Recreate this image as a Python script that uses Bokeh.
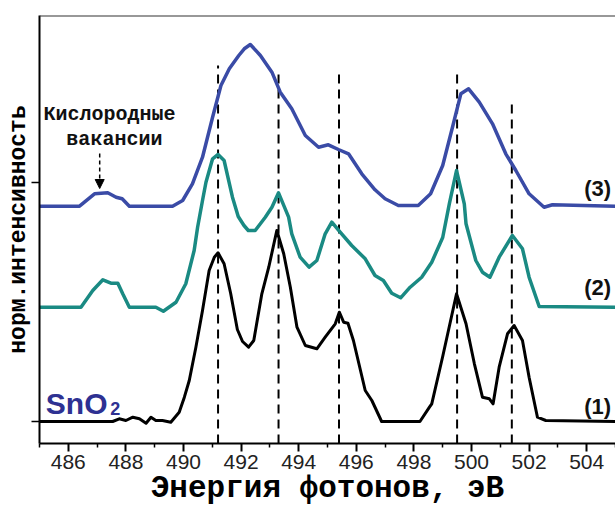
from bokeh.plotting import figure
from bokeh.models import (FixedTicker, Label, Arrow, NormalHead, Span,
                          ColumnDataSource, Range1d)
from bokeh.embed import file_html
from bokeh.resources import INLINE

# ---------------- data ----------------
# Curve (3): blue, offset above the black baseline
x3 = [485.0, 486.39, 486.91, 487.37, 487.66, 487.87, 488.12, 489.62, 489.97, 490.31,
      490.66, 491.01, 491.30, 491.59, 491.92, 492.11, 492.32, 492.67, 493.07, 493.36,
      493.76, 494.23, 494.69, 495.03, 495.38, 495.73, 496.19, 496.65, 497.0, 497.46,
      498.15, 498.58, 499.0, 499.34, 499.63, 499.9, 500.27, 500.73, 501.19, 501.54,
      502.0, 502.52, 502.81, 505.0]
i3 = [0, 0, 12.4, 13.4, 9.0, 7.4, 0, 0, 5.7, 22.4,
      49.0, 89.0, 120.7, 137.4, 150.7, 157.4, 161.7, 150.7, 134.0, 114.0,
      97.4, 70.7, 59.0, 61.4, 56.7, 52.4, 32.4, 16.4, 7.4, 0.7,
      0.7, 12.4, 40.7, 79.0, 112.4, 117.4, 104.0, 82.4, 52.4, 35.7,
      12.4, -1.0, 1.4, 0]
off3 = 215.3

# Curve (2): teal
x2 = [485.0, 486.44, 486.85, 487.2, 487.48, 487.72, 487.89, 488.12, 489.04, 489.3,
      489.74, 490.08, 490.37, 490.49, 490.66, 490.78, 491.01, 491.2, 491.41, 491.7,
      491.9, 492.1, 492.25, 492.49, 492.84, 493.07, 493.3, 493.65, 493.76, 494.05,
      494.36, 494.63, 494.92, 495.15, 495.44, 495.84, 496.31, 496.65, 496.94, 497.23,
      497.54, 497.87, 498.27, 498.62, 499.0, 499.23, 499.48, 499.75, 499.81, 500.15,
      500.38, 500.64, 500.96, 501.42, 501.77, 502.0, 502.35, 505.0]
i2 = [0, 0, 16.7, 27.4, 24.0, 24.0, 13.4, 0, 0, -4.0,
      5.0, 23.4, 56.7, 80.0, 106.7, 125.0, 148.4, 152.7, 146.7, 110.0,
      90.7, 81.7, 76.7, 76.7, 90.0, 100.0, 114.4, 90.0, 73.4, 50.0,
      40.0, 46.7, 73.4, 85.0, 75.0, 61.7, 48.4, 31.7, 26.7, 14.0,
      9.4, 20.0, 30.0, 45.0, 69.7, 103.4, 136.7, 103.4, 83.4, 46.7,
      35.0, 30.0, 50.0, 71.7, 58.4, 30.0, 0.7, 0]
off2 = 114.3

# Curve (1): black (SnO2)
x1 = [485.0, 487.54, 487.77, 488.0, 488.24, 488.47, 488.7, 488.87, 489.04, 489.27,
      489.56, 489.85, 490.03, 490.2, 490.43, 490.66, 490.89, 491.07, 491.2, 491.41,
      491.64, 491.87, 492.05, 492.26, 492.44, 492.72, 492.96, 493.24, 493.48, 493.71,
      493.94, 494.23, 494.63, 494.92, 495.27, 495.41, 495.56, 495.71, 495.9, 496.31,
      496.54, 496.88, 498.21, 498.54, 498.62, 499.0, 499.48, 499.81, 500.1, 500.38,
      500.62, 500.75, 500.96, 501.25, 501.48, 501.77, 502.0, 502.29, 502.58, 505.0]
i1 = [0, 0, 2.7, 1.0, 4.3, 2.7, -1.7, 4.3, 1.0, 1.0,
      -0.7, 9.3, 24.3, 41.0, 74.3, 111.0, 151.0, 164.3, 168.7, 157.7,
      127.7, 92.0, 80.0, 74.3, 81.0, 127.7, 154.3, 191.0, 167.7, 134.3,
      94.3, 76.0, 72.7, 84.3, 97.7, 109.3, 99.3, 98.3, 81.0, 31.0,
      21.0, 0, 0, 14.3, 17.7, 65.0, 127.7, 97.7, 57.7, 24.3,
      22.7, 17.7, 54.3, 87.7, 96.0, 81.0, 44.3, 4.3, 1.0, 0]
off1 = 0.0

# vertical dashed guides (eV) and their top heights
guide_x = [491.2, 493.3, 495.4, 499.5, 501.4]
guide_top = [356, 349, 349, 351, 319]

x_major = [486, 488, 490, 492, 494, 496, 498, 500, 502, 504]
x_minor = [485, 487, 489, 491, 493, 495, 497, 499, 501, 503, 505]
y_ticks = [0, 239]

curve_labels = ["(3)", "(2)", "(1)"]
curve_label_y = [233, 134, 15]

X_RANGE = (485, 505)
Y_RANGE = (-22, 406)

BLUE = "#3a4ba6"
TEAL = "#1a8a83"

# ---------------- figure ----------------
p = figure(width=615, height=511, output_backend="svg", toolbar_location=None,
           x_range=Range1d(*X_RANGE), y_range=Range1d(*Y_RANGE),
           min_border_left=39, min_border_right=0, min_border_top=15,
           min_border_bottom=68)
p.outline_line_color = None
p.xgrid.visible = False
p.ygrid.visible = False
p.background_fill_color = "white"

# top frame line
p.add_layout(Span(location=Y_RANGE[1], dimension="width", line_color="#333333",
                  line_width=2))

# dashed guides
p.segment(x0=guide_x, y0=[Y_RANGE[0]] * len(guide_x), x1=guide_x, y1=guide_top,
          line_color="black", line_width=2, line_dash="9 6")

p.line(x1, [v + off1 for v in i1], line_color="black", line_width=3,
       line_join="round")
p.line(x2, [v + off2 for v in i2], line_color=TEAL, line_width=3.5,
       line_join="round")
p.line(x3, [v + off3 for v in i3], line_color=BLUE, line_width=3.5,
       line_join="round")

# axes
xa = p.xaxis[0]
xa.ticker = FixedTicker(ticks=x_major, minor_ticks=x_minor)
xa.axis_label = "Энергия фотонов, эВ"
xa.axis_label_text_font = "Liberation Mono"
xa.axis_label_text_font_style = "bold"
xa.axis_label_text_font_size = "31px"
xa.axis_label_text_color = "black"
xa.axis_label_standoff = -1
xa.major_label_text_font = "Liberation Sans"
xa.major_label_text_font_size = "21px"
xa.major_label_text_color = "#222222"
xa.major_label_standoff = 3
xa.major_tick_out = 8
xa.major_tick_in = 0
xa.minor_tick_out = 4
xa.minor_tick_in = 0
xa.axis_line_width = 2
xa.major_tick_line_width = 2
xa.minor_tick_line_width = 1.5

ya = p.yaxis[0]
ya.ticker = FixedTicker(ticks=y_ticks)
ya.major_label_overrides = {t: "" for t in y_ticks}
ya.axis_label = "норм.интенсивность"
ya.axis_label_text_font = "Liberation Mono"
ya.axis_label_text_font_style = "bold"
ya.axis_label_text_font_size = "23px"
ya.axis_label_text_color = "black"
ya.axis_label_standoff = 0
ya.major_label_standoff = 0
ya.major_tick_out = 8
ya.major_tick_in = 0
ya.minor_tick_out = 0
ya.minor_tick_in = 0
ya.axis_line_width = 2
ya.major_tick_line_width = 1.5

# curve labels
src = ColumnDataSource(dict(x=[504.85] * 3, y=curve_label_y, t=curve_labels))
p.text(x="x", y="y", text="t", source=src, text_align="right",
       text_baseline="middle", text_font_size="22px", text_font_style="bold",
       text_color="#111111", text_font={"value": "Liberation Sans"})

# SnO2 label
p.add_layout(Label(x=485.22, y=18, text="SnO", text_font="Liberation Sans",
                   text_font_style="bold", text_font_size="30px",
                   text_color="#2e3192", text_baseline="alphabetic"))
p.add_layout(Label(x=487.46, y=13, text="2", text_font="Liberation Sans",
                   text_font_style="bold", text_font_size="18px",
                   text_color="#2e3192", text_baseline="alphabetic"))

# oxygen vacancy annotation
p.add_layout(Label(x=487.43, y=307, text="Кислородные", text_font="Liberation Mono",
                   text_font_style="bold", text_font_size="20px",
                   text_align="center", text_baseline="middle", text_color="#111111"))
p.add_layout(Label(x=487.6, y=282, text="вакансии", text_font="Liberation Mono",
                   text_font_style="bold", text_font_size="20px",
                   text_align="center", text_baseline="middle", text_color="#111111"))
p.add_layout(Arrow(end=NormalHead(size=9, fill_color="black", line_color="black"),
                   x_start=487.09, y_start=268, x_end=487.09, y_end=233,
                   line_color="black", line_width=1.5, line_dash="4 3"))

open("out.html", "w").write(file_html(p, INLINE))
